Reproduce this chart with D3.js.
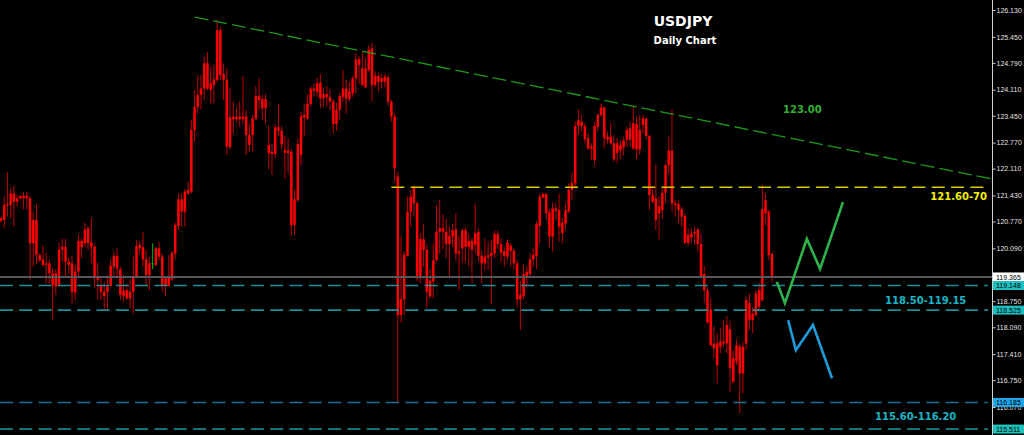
<!DOCTYPE html>
<html><head><meta charset="utf-8">
<script src="https://cdn.jsdelivr.net/npm/d3@7"></script>
<style>html,body{margin:0;padding:0;background:#000;overflow:hidden}</style>
</head><body><svg id="c" width="1024" height="435"></svg>
<script>
// ---- data (USDJPY daily candles) ----
const opens = [120.79,120.81,121.18,121.19,121.48,121.27,121.36,121.42,121.36,121.36,120.22,120.81,119.92,119.81,119.67,119.71,119.46,119.46,119.14,120.06,
120.13,119.75,119.71,118.97,119.50,120.28,120.22,120.60,120.24,120.13,119.39,119.14,118.99,118.99,119.14,119.63,119.90,119.56,118.88,119.03,
118.82,118.99,119.36,120.09,120.12,119.81,119.41,119.70,119.67,120.09,119.88,119.14,119.37,119.30,119.96,120.66,121.33,121.02,121.48,121.53,
123.09,123.68,123.98,124.14,124.78,124.10,124.23,124.36,125.62,124.51,124.36,122.65,123.36,123.43,123.36,123.43,123.43,122.96,122.96,123.38,
123.95,123.87,123.64,122.71,122.48,122.48,123.16,123.07,122.58,122.51,122.54,120.68,121.31,122.46,123.41,123.38,123.75,124.14,124.06,124.29,
123.89,124.00,123.92,123.81,123.24,123.60,123.93,124.14,123.87,124.02,124.40,124.88,124.65,124.17,124.61,125.16,124.23,124.46,124.31,124.44,
124.42,123.81,123.43,121.91,118.40,118.80,119.90,121.02,121.23,121.23,119.33,120.32,120.06,118.87,119.25,119.79,120.51,120.60,120.51,120.20,
120.39,120.57,119.96,120.09,120.55,120.13,120.28,120.18,120.51,119.90,119.71,119.86,119.90,119.96,120.45,120.20,120.01,119.88,120.16,120.03,
119.71,118.80,118.88,119.36,119.44,119.81,119.90,120.66,121.38,121.47,121.00,120.39,121.10,121.06,120.74,120.72,121.02,121.57,121.74,123.19,
123.30,123.19,122.88,122.62,122.33,123.17,123.47,123.66,122.85,122.92,122.75,122.51,122.71,122.65,122.84,123.13,122.62,123.24,122.60,123.22,
123.38,122.94,121.44,121.36,120.98,121.06,121.50,122.20,122.57,121.23,121.21,121.08,120.91,120.23,120.37,120.47,120.57,120.20,119.44,119.03,
118.54,117.68,117.68,117.60,117.73,117.68,118.04,117.30,117.22,117.60,116.92,117.68,118.70,118.27,118.40,119.03,118.78,120.98,121.02,119.95];
const highs = [120.89,121.40,122.02,121.61,121.67,121.44,121.44,121.53,121.53,121.42,121.02,121.21,119.96,120.16,119.98,119.81,119.58,119.56,120.23,120.34,
120.33,119.85,119.92,119.67,120.43,120.34,120.74,120.64,120.85,120.18,119.73,119.37,119.25,119.41,119.81,119.99,120.09,119.63,119.41,119.19,
119.30,119.88,120.30,120.26,120.50,120.05,119.88,120.22,120.13,120.26,119.96,119.35,119.92,120.01,120.74,121.48,121.48,121.59,121.78,123.34,
124.10,124.48,124.48,124.95,125.07,124.69,124.74,125.88,125.71,124.78,124.65,124.17,123.81,123.66,123.81,124.46,123.60,123.24,123.47,124.20,
124.40,123.98,124.00,123.19,122.75,123.24,123.75,123.19,122.94,122.88,122.60,121.57,122.88,123.55,123.76,124.00,124.20,124.27,124.42,124.51,
124.17,124.20,124.12,123.87,123.78,124.03,124.61,124.36,124.31,124.46,125.05,124.96,125.07,124.91,125.24,125.29,124.57,124.54,124.51,124.51,
124.48,123.85,123.51,122.03,120.39,120.01,121.40,121.57,121.68,121.27,120.47,120.71,120.18,119.56,120.22,121.19,121.33,120.96,120.85,120.64,
120.72,120.98,120.39,120.58,120.62,120.47,120.37,121.23,120.60,120.03,120.34,120.26,120.30,120.55,120.55,120.34,120.13,120.32,120.22,120.09,
119.79,119.27,119.67,119.63,119.96,120.09,120.77,121.47,121.50,121.50,121.08,121.25,121.23,121.48,120.85,121.23,121.74,122.01,123.30,123.61,
123.47,123.27,123.00,122.75,123.30,123.51,123.76,123.68,123.05,123.27,122.96,122.90,122.82,122.90,123.17,123.30,123.68,123.43,123.47,123.47,
123.41,122.96,121.61,122.24,121.40,121.65,122.24,122.92,123.60,121.31,121.31,121.15,120.98,120.60,120.60,120.64,120.60,120.47,119.64,119.10,
118.82,118.12,117.94,118.06,118.27,118.38,118.26,117.51,117.78,117.68,117.73,118.87,118.95,118.61,119.03,119.20,121.70,121.48,121.06,119.98];
const lows = [120.74,120.60,120.89,120.85,120.64,121.15,121.33,121.08,121.08,119.29,119.63,119.71,119.75,119.63,119.20,119.20,118.29,118.91,119.12,119.75,
119.37,119.46,118.70,118.78,119.37,119.84,120.13,120.05,119.71,119.12,118.78,118.78,118.53,118.53,119.12,119.37,119.33,118.78,118.74,118.78,
118.57,118.44,119.33,119.96,119.63,119.16,119.03,119.56,119.63,119.79,118.99,118.87,119.12,119.25,119.81,120.55,120.64,120.64,121.44,121.48,
122.79,123.51,123.60,123.85,124.10,123.76,123.76,124.30,124.36,123.85,122.46,122.62,123.00,123.27,123.16,123.26,122.46,122.54,122.54,123.34,
123.60,123.34,123.24,122.09,121.95,122.37,122.94,122.60,121.86,121.99,120.40,120.43,121.27,122.20,122.92,123.34,123.68,123.93,123.93,123.64,
123.68,123.68,123.58,123.00,123.07,123.34,123.81,123.51,123.81,123.93,124.02,124.25,124.20,124.14,124.57,123.81,124.17,124.06,124.14,124.17,
123.70,123.30,121.78,116.16,118.21,118.40,119.88,120.64,120.89,119.25,119.20,119.63,118.57,118.82,118.82,119.76,119.96,120.06,119.84,119.37,
120.12,119.78,119.03,119.71,119.75,119.63,119.20,119.96,119.75,119.20,119.54,119.54,118.68,119.84,120.06,119.73,119.63,119.79,119.63,119.54,
118.61,118.02,118.80,119.10,119.33,119.63,119.56,120.22,121.36,120.81,120.12,120.01,120.81,120.26,120.22,120.55,120.98,121.31,121.65,122.96,
123.05,122.75,122.58,122.33,122.20,123.05,123.43,122.62,122.75,122.71,122.29,122.24,122.35,122.43,122.67,122.67,122.58,122.35,122.46,123.00,
122.84,121.06,121.23,120.55,120.32,120.83,121.23,121.99,121.02,120.89,120.72,120.64,120.20,120.15,120.22,120.18,120.01,119.37,118.70,118.18,
117.60,117.30,116.67,117.43,117.60,117.43,116.46,116.67,117.13,115.91,116.42,117.51,118.02,117.94,118.36,118.53,118.74,120.68,119.79,119.23];
const closes = [120.85,121.19,121.21,121.48,121.27,121.36,121.42,121.36,121.42,120.22,120.81,119.92,119.79,119.67,119.71,119.46,119.16,119.12,120.06,120.13,
119.75,119.67,118.99,119.50,120.28,120.12,120.57,120.22,120.12,119.37,119.29,118.99,118.88,119.12,119.65,119.90,119.58,118.91,119.02,118.82,
118.99,119.36,120.15,120.18,119.81,119.41,119.71,119.71,120.09,119.88,119.14,119.33,119.14,119.98,120.68,121.33,121.02,121.53,121.57,123.09,
123.68,123.98,124.14,124.78,124.14,124.27,124.37,125.62,124.48,124.36,122.67,123.41,123.43,123.36,123.43,123.36,122.96,122.71,123.38,123.95,
123.85,123.64,123.87,122.50,122.54,123.16,123.07,122.73,122.51,122.57,120.68,121.33,122.73,123.44,123.47,123.75,124.14,124.09,124.27,123.89,
124.00,123.92,123.81,123.24,123.60,123.95,124.14,123.89,124.06,124.40,124.88,124.74,124.23,124.65,125.13,124.23,124.46,124.31,124.40,124.31,
123.81,123.43,122.12,118.40,118.80,119.92,121.02,121.40,121.65,119.33,120.32,120.05,118.99,119.27,119.79,120.51,120.60,120.51,120.20,120.40,
120.55,119.96,120.01,120.55,120.13,120.28,120.06,120.47,119.90,119.71,119.88,119.92,119.98,120.45,120.20,119.98,119.90,120.24,120.03,119.71,
118.80,118.91,119.44,119.50,119.81,119.92,120.71,121.40,121.47,120.98,120.39,121.10,121.04,120.64,120.47,121.06,121.57,121.75,123.19,123.34,
123.19,122.85,122.62,122.67,123.19,123.47,123.66,122.88,122.92,122.75,122.35,122.75,122.57,122.82,123.09,122.84,123.26,122.60,123.09,123.38,
122.94,121.44,121.27,120.81,121.15,121.50,122.20,122.57,121.23,121.19,121.06,120.89,120.23,120.43,120.47,120.51,120.20,119.39,119.03,118.21,
117.64,117.56,117.13,117.73,117.68,118.15,117.05,116.71,117.64,116.92,117.60,118.78,118.27,118.43,118.95,118.61,121.08,121.31,119.92,119.37];

const tickValues = [126.130,125.450,124.790,124.110,123.450,122.770,122.110,121.430,120.770,120.090,118.750,118.090,117.410,116.750,116.070];
const bidPrice = 119.365;
const levelPrices = [119.148, 118.525, 116.185, 115.511];
const resistancePrice = 121.64;      // yellow dashed level
const resistanceFromIndex = 121;
const trendIndex = [60, 307];        // descending trend line anchors (bar index)
const trendPrice = [125.95, 121.85];
const bullIndex = [240.5, 243, 249.8, 253.9, 261];
const bullPrice = [119.24, 118.70, 120.33, 119.57, 121.26];
const bearIndex = [244, 246.4, 251.7, 257.6];
const bearPrice = [118.27, 117.51, 118.15, 116.80];
const greenBar = 47;

// ---- drawing ----
const W = 1024, H = 435, axisX = 992;
const svg = d3.select("#c");
svg.append("rect").attr("width", W).attr("height", H).attr("fill", "#000");

const x = d3.scaleLinear().domain([0, opens.length - 1]).range([1, 772]);
const y = d3.scaleLinear().domain([116.07, 126.13]).range([407, 10]);

const candles = opens.map((o, i) => ({ i, o, h: highs[i], l: lows[i], c: closes[i] }));

// candles
const cg = svg.append("g");
cg.selectAll("line.wick").data(candles).enter().append("line")
  .attr("x1", d => x(d.i)).attr("x2", d => x(d.i))
  .attr("y1", d => y(d.h)).attr("y2", d => y(d.l))
  .attr("stroke", d => d.i === greenBar ? "#00b000" : "#c00000")
  .attr("stroke-width", 1);
cg.selectAll("rect.body").data(candles).enter().append("rect")
  .attr("x", d => x(d.i) - 1.25).attr("width", 2.5)
  .attr("y", d => y(Math.max(d.o, d.c)))
  .attr("height", d => Math.max(1, Math.abs(y(d.o) - y(d.c))))
  .attr("fill", d => d.i === greenBar ? "#00c000" : "#ff0000");

// horizontal level lines
const levelStroke = ["#1a8f99", "#1a8f99", "#19709a", "#1a9aa2"];
svg.selectAll("line.level").data(levelPrices).enter().append("line")
  .attr("x1", 0).attr("x2", 988)
  .attr("y1", d => y(d)).attr("y2", d => y(d))
  .attr("stroke", (d, k) => levelStroke[k]).attr("stroke-width", 1.6)
  .attr("stroke-dasharray", "13,6.3");

svg.append("line").attr("x1", 0).attr("x2", axisX)
  .attr("y1", y(bidPrice)).attr("y2", y(bidPrice))
  .attr("stroke", "#56565f").attr("stroke-width", 2);

svg.append("line").attr("x1", x(resistanceFromIndex)).attr("x2", 988)
  .attr("y1", y(resistancePrice)).attr("y2", y(resistancePrice))
  .attr("stroke", "#d6cc00").attr("stroke-width", 1.5)
  .attr("stroke-dasharray", "13,6.3");

svg.append("line")
  .attr("x1", x(trendIndex[0])).attr("y1", y(trendPrice[0]))
  .attr("x2", x(trendIndex[1])).attr("y2", y(trendPrice[1]))
  .attr("stroke", "#1c9a1c").attr("stroke-width", 1.3)
  .attr("stroke-dasharray", "14,5");

// forecast paths
const line = d3.line().x(d => x(d[0])).y(d => y(d[1]));
svg.append("path").attr("d", line(bullIndex.map((v, k) => [v, bullPrice[k]])))
  .attr("fill", "none").attr("stroke", "#2db34a").attr("stroke-width", 2.6);
svg.append("path").attr("d", line(bearIndex.map((v, k) => [v, bearPrice[k]])))
  .attr("fill", "none").attr("stroke", "#1e9ad8").attr("stroke-width", 2.6);

// texts
const bold = "'DejaVu Sans', sans-serif";
svg.append("text").attr("x", 683).attr("y", 26).attr("text-anchor", "middle")
  .attr("font-family", bold).attr("font-weight", "bold").attr("font-size", 14)
  .attr("fill", "#fff").text("USDJPY");
svg.append("text").attr("x", 685).attr("y", 43.7).attr("text-anchor", "middle")
  .attr("font-family", bold).attr("font-weight", "bold").attr("font-size", 10)
  .attr("fill", "#fff").text("Daily Chart");
const notes = [
  { t: "123.00", x: 783, y: 112.7, a: "start", f: "#34b034" },
  { t: "121.60-70", x: 987, y: 200.4, a: "end", f: "#f2ee00" },
  { t: "118.50-119.15", x: 885, y: 303.7, a: "start", f: "#1ab6c6" },
  { t: "115.60-116.20", x: 875, y: 420.4, a: "start", f: "#1ab6c6" }
];
svg.selectAll("text.note").data(notes).enter().append("text")
  .attr("x", d => d.x).attr("y", d => d.y).attr("text-anchor", d => d.a)
  .attr("font-family", bold).attr("font-weight", "bold").attr("font-size", 10)
  .attr("fill", d => d.f).text(d => d.t);

// right axis
svg.append("line").attr("x1", axisX + 0.5).attr("x2", axisX + 0.5).attr("y1", 0).attr("y2", H)
  .attr("stroke", "#d0d0d0").attr("stroke-width", 1);
const ax = svg.append("g").attr("transform", `translate(${axisX + 0.5},0)`)
  .call(d3.axisRight(y).tickValues(tickValues).tickSize(3).tickPadding(1).tickFormat(d3.format(".3f")));
ax.select(".domain").remove();
ax.selectAll("line").attr("stroke", "#cfcfcf");
ax.selectAll("text").attr("fill", "#e4e4e4").attr("font-family", "'Liberation Sans', Arial, sans-serif").attr("font-size", 7);

// price label boxes
const boxes = [
  { p: bidPrice, bg: "#ffffff" },
  { p: levelPrices[0], bg: "#1cc2c2" },
  { p: levelPrices[1], bg: "#1cbcbc" },
  { p: levelPrices[2], bg: "#1fa6ea" },
  { p: levelPrices[3], bg: "#1cc0b8" }
];
const bg = svg.append("g");
bg.selectAll("rect").data(boxes).enter().append("rect")
  .attr("x", axisX + 1).attr("width", 32).attr("y", d => y(d.p) - 4.5).attr("height", 9)
  .attr("fill", d => d.bg);
bg.selectAll("text").data(boxes).enter().append("text")
  .attr("x", axisX + 4).attr("y", d => y(d.p) + 2.6)
  .attr("font-family", "'Liberation Sans', Arial, sans-serif").attr("font-size", 7)
  .attr("fill", "#000").text(d => d3.format(".3f")(d.p));
</script></body></html>
